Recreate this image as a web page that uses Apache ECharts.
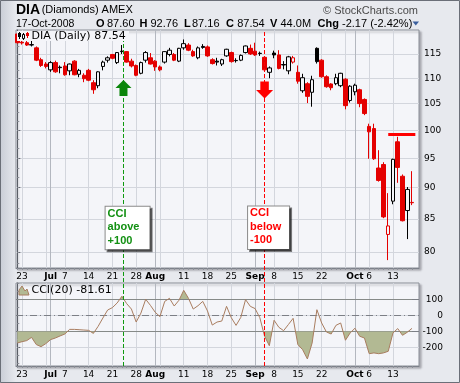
<!DOCTYPE html>
<html><head><meta charset="utf-8">
<script src="https://cdn.jsdelivr.net/npm/echarts@6/dist/echarts.min.js"></script>
<style>html,body{margin:0;padding:0;background:#e7e9ee}#c{width:460px;height:383px}</style>
</head><body><div id="c"></div><script>
// ---------------- data ----------------
const DATES = ['06-20','06-23','06-24','06-25','06-26','06-27','06-30',
'07-01','07-02','07-03','07-07','07-08','07-09','07-10','07-11','07-14','07-15','07-16','07-17','07-18','07-21','07-22','07-23','07-24','07-25','07-28','07-29','07-30','07-31',
'08-01','08-04','08-05','08-06','08-07','08-08','08-11','08-12','08-13','08-14','08-15','08-18','08-19','08-20','08-21','08-22','08-25','08-26','08-27','08-28','08-29',
'09-02','09-03','09-04','09-05','09-08','09-09','09-10','09-11','09-12','09-15','09-16','09-17','09-18','09-19','09-22','09-23','09-24','09-25','09-26','09-29','09-30',
'10-01','10-02','10-03','10-06','10-07','10-08','10-09','10-10','10-13','10-14','10-15','10-16','10-17'];
const PRIOR_CLOSE = 119.6;
const OPEN  = [119.3,117.5,117.4,116.9,116.3,113.8,112.9,111.7,113.2,112.25,112.5,111.5,113.5,110.8,110.6,111.6,109.1,108.5,112.4,113.7,114.9,113.2,115.6,115.5,113.5,112.6,111.0,113.7,114.2,113.5,112.3,113.3,114.9,114.9,113.5,116.3,116.9,115.5,114.2,116.6,116.5,113.8,113.5,112.9,114.6,115.3,113.65,113.7,115.3,116.2,115.6,115.15,114.3,111.2,115.2,114.8,112.8,111.5,113.3,111.2,107.5,108.9,107.2,116.2,113.7,110.3,108.85,108.9,108.5,109.8,105.6,107.3,107.7,105.8,100.7,100.3,93.3,93.9,82.6,87.8,97.9,91.9,86.3,87.60];
const HIGH  = [119.5,118.0,118.2,118.3,116.6,114.2,113.3,113.5,113.6,112.6,113.3,113.0,113.7,111.9,111.0,111.9,109.6,111.4,113.6,114.5,115.0,115.4,116.9,115.6,114.0,112.8,113.4,115.6,115.2,113.7,112.6,115.6,116.3,115.2,116.3,118.1,117.3,115.9,116.6,117.1,116.8,114.1,114.2,114.0,116.1,115.5,114.1,114.9,116.8,117.0,117.4,115.5,114.5,112.4,115.7,115.8,113.5,114.6,114.6,112.6,110.9,109.2,110.5,116.4,113.9,110.6,109.0,110.9,111.1,110.0,108.6,108.9,107.9,106.0,101.2,101.2,96.4,94.3,89.1,94.9,98.8,92.2,90.1,92.76];
const LOW   = [117.2,117.0,116.7,116.6,113.5,112.3,112.0,111.3,111.1,111.0,110.5,110.6,110.6,110.2,109.2,109.4,106.9,108.0,111.6,113.2,113.9,112.9,115.0,113.2,112.2,110.4,110.8,113.2,112.8,111.5,111.4,113.0,114.5,113.5,113.3,115.9,115.6,114.4,113.9,116.1,114.4,112.8,112.6,112.5,114.4,113.2,113.2,113.5,115.1,114.8,114.6,114.6,111.6,110.0,114.1,111.8,111.8,110.8,113.0,108.9,107.1,105.1,104.4,113.0,110.1,108.1,107.6,108.6,108.2,103.9,105.2,106.6,104.3,102.8,94.9,94.7,91.0,85.1,78.8,87.3,90.8,84.6,81.9,87.16];
const CLOSE = [117.4,117.35,116.9,117.0,113.7,112.6,112.4,113.2,111.3,112.15,110.7,112.9,110.7,111.6,109.9,109.6,107.7,111.3,113.3,114.2,114.1,115.3,115.5,113.3,112.5,110.6,113.2,115.3,112.9,112.3,111.7,115.5,115.8,113.7,116.2,117.2,115.8,114.6,116.3,116.4,114.6,113.0,113.3,113.8,116.0,113.4,113.6,114.7,116.7,115.0,114.8,115.1,111.7,112.1,114.8,112.0,112.7,114.4,114.2,109.4,110.1,106.4,109.7,113.4,110.3,108.3,108.1,110.1,111.0,104.6,108.4,108.6,105.0,103.1,99.7,94.9,91.2,85.3,83.9,94.8,93.4,84.7,89.71,87.54];
const CCI   = [-173,-165,-158,-138,-183,-196,-177,-152,-142,-129,-117,-88,-88,-90,-92,-94,-113,-69,-17,33,48,77,119,73,39,-42,14,100,62,19,-8,87,106,58,94,156,106,39,60,87,27,-61,-42,-36,56,-15,-63,-13,98,56,42,-15,-131,-190,-31,-75,-96,-58,-19,-183,-215,-273,-173,35,-48,-104,-117,-63,-48,-156,-110,-81,-131,-142,-240,-235,-240,-235,-225,-110,-83,-125,-106,-81.61];
const X_TICK_IDX = [1,7,10,15,20,25,29,35,40,45,50,54,59,64,71,74,79];
const X_TICK_TXT = ['23','Jul','7','14','21','28','Aug','11','18','25','Sep','8','15','22','Oct','6','13'];
const MONTH_NAMES = ['Jul','Aug','Sep','Oct'];
const WEEK_IDX  = [1,6,10,15,20,25,30,35,40,45,50,54,59,64,69,74,79];
const MONTH_IDX = [7,29,50,71];
const PRICE_TICKS = [80,85,90,95,100,105,110,115];
const CCI_TICKS = [-200,-100,0,100];
const CCI_LEVELS = [100,-100];
// annotations (data coordinates)
const SIGNAL_IDX = [22.33,52];
const ARROW_AT = [[22.33,108.05],[52,107.66]];
const NOTE_AT = [[18.57,86.9],[48.53,86.95]];
const NOTE_TXT = ['CCI\nabove\n+100','CCI\nbelow\n-100'];
const RESIST_X = [78.0,83.7];
const RESIST_LEVEL = 99.2;

// ---------------- styling ----------------
const RED='#e40000', BLACK='#000000', PLOT_BG='#f4f5f9', GREEN='#0b860b';
const FONT='DejaVu Sans', HFONT='Liberation Sans';
const P_MIN=77.67, P_MAX=120.17, CCI_MIN=-316.9, CCI_MAX=201.9;
const X_MIN=-0.27, X_MAX=84.47;
const GM={left:16,top:30,width:403,height:238};
const GC={left:16,top:283,width:403,height:83};
const hiH = GC.height*(CCI_MAX-100)/(CCI_MAX-CCI_MIN);
const loTop = GC.top + GC.height*(CCI_MAX+100)/(CCI_MAX-CCI_MIN);
const DAY_IDX = DATES.map((d,i)=>i);
const PRICE_MINOR=[]; for(let v=78+1/3; v<120; v+=5/3) PRICE_MINOR.push(v);
const CCI_MINOR=[-300,-250,-200,-150,-100,-50,0,50,100,150,200];

const gridBase = {show:true, backgroundColor:PLOT_BG, borderColor:'#8a8e97', borderWidth:1,
  shadowColor:'rgba(60,60,70,0.35)', shadowBlur:2, shadowOffsetX:2, shadowOffsetY:2};
const grids = [
  Object.assign({}, gridBase, GM),
  Object.assign({}, gridBase, GC),
  {left:GC.left, top:GC.top, width:GC.width, height:hiH},
  {left:GC.left, top:loTop, width:GC.width, height:GC.top+GC.height-loTop},
  {left:GM.left, top:GM.top, width:GM.width, height:GC.top+GC.height-GM.top}
];
function xfmt(v){ const k=X_TICK_IDX.indexOf(Math.round(v)); const t=X_TICK_TXT[k]; if(t===undefined) return ''; return MONTH_NAMES.indexOf(t)>=0 ? '{b|'+t+'}' : t; }
function xAxesFor(g){
  return [
    {gridIndex:g,type:'value',min:X_MIN,max:X_MAX,position:'bottom',axisLine:{show:false},
     axisTick:{show:false,customValues:WEEK_IDX},splitLine:{show:true,lineStyle:{color:'#d3d6dd',width:1}},
     axisLabel:{customValues:X_TICK_IDX,formatter:xfmt,margin:4,fontFamily:FONT,fontSize:9,color:'#000',
       rich:{b:{fontFamily:FONT,fontSize:9,fontWeight:'bold',color:'#000'}}}},
    {gridIndex:g,type:'value',min:X_MIN,max:X_MAX,position:'bottom',axisLine:{show:false},axisLabel:{show:false},
     axisTick:{show:false,customValues:MONTH_IDX},splitLine:{show:true,lineStyle:{color:'#b3b7bf',width:1}}},
    {gridIndex:g,type:'value',min:X_MIN,max:X_MAX,position:'bottom',axisLine:{show:true,lineStyle:{color:'#7d818a'}},axisLabel:{show:false},
     axisTick:{show:true,customValues:DAY_IDX,length:2,lineStyle:{color:'#8d9199'}},splitLine:{show:false}}
  ];
}
const hiddenX = g => ({gridIndex:g,type:'value',min:X_MIN,max:X_MAX,show:false});
const xAxis = [...xAxesFor(0), ...xAxesFor(1), hiddenX(2), hiddenX(3), hiddenX(4)];
const yAxis = [
  {gridIndex:0,type:'log',logBase:10,min:P_MIN,max:P_MAX,position:'right',
   axisLine:{show:true,lineStyle:{color:'#5a5e66'}},axisTick:{show:true,length:3,customValues:PRICE_TICKS,lineStyle:{color:'#5a5e66'}},
   splitLine:{show:true,lineStyle:{color:'#d3d6dd'}},
   axisLabel:{customValues:PRICE_TICKS,margin:5,fontFamily:FONT,fontSize:9,color:'#000',formatter:v=>String(Math.round(v))}},
  {gridIndex:0,type:'log',logBase:10,min:P_MIN,max:P_MAX,position:'right',axisLine:{show:false},axisLabel:{show:false},
   splitLine:{show:false},axisTick:{show:true,length:2,customValues:PRICE_MINOR,lineStyle:{color:'#8d9199'}}},
  {gridIndex:1,type:'value',min:CCI_MIN,max:CCI_MAX,position:'right',
   axisLine:{show:true,lineStyle:{color:'#5a5e66'}},axisTick:{show:true,length:3,customValues:CCI_TICKS,lineStyle:{color:'#5a5e66'}},
   splitLine:{show:true,lineStyle:{color:'#d3d6dd'}},
   axisLabel:{customValues:CCI_TICKS,margin:24,align:'right',fontFamily:FONT,fontSize:9,color:'#000'}},
  {gridIndex:1,type:'value',min:CCI_MIN,max:CCI_MAX,position:'right',axisLine:{show:false},axisLabel:{show:false},
   splitLine:{show:false},axisTick:{show:true,length:2,customValues:CCI_MINOR,lineStyle:{color:'#8d9199'}}},
  {gridIndex:2,type:'value',min:100,max:CCI_MAX,show:false},
  {gridIndex:3,type:'value',min:CCI_MIN,max:-100,show:false},
  {gridIndex:4,type:'value',min:0,max:1,show:false}
];

const candleData = OPEN.map((o,i)=>{
  const c=CLOSE[i], prev = i ? CLOSE[i-1] : PRIOR_CLOSE;
  const col = c < prev ? RED : BLACK;
  const hollow = c > o;
  return {value:[i,o,c,LOW[i],HIGH[i]], itemStyle:{color: hollow?PLOT_BG:col, color0:col, borderColor:col, borderColor0:col, borderWidth:1}};
});
const cciData = CCI.map((v,i)=>[i,v]);
const FILL='#b2b993', LINE='#a97d60';

const arrowUp='path://M8,0 L16,8 L12,8 L12,16 L4,16 L4,8 L0,8 Z';
const arrowDn='path://M4,0 L12,0 L12,8 L16,8 L8,16 L0,8 L4,8 Z';
const noteLabel=(txt,color,w)=>({show:true,position:'inside',align:'left',verticalAlign:'top',formatter:txt,
  color:color,fontFamily:HFONT,fontWeight:'bold',fontSize:11,lineHeight:13.5,width:w,
  backgroundColor:'#ffffff',borderColor:'#8a8a8a',borderWidth:1,padding:[0,2,2,2],
  shadowColor:'rgba(0,0,0,0.5)',shadowOffsetX:2,shadowOffsetY:2,shadowBlur:0});

const series = [
  {type:'candlestick',xAxisIndex:0,yAxisIndex:0,barWidth:4,z:3,
   dimensions:['idx','open','close','lowest','highest'],encode:{x:'idx',y:['open','close','lowest','highest']},
   data:candleData,
   markLine:{silent:true,symbol:'none',z:6,label:{show:false},lineStyle:{color:'#ff0000',width:3,type:'solid'},
     data:[[{coord:[RESIST_X[0],RESIST_LEVEL]},{coord:[RESIST_X[1],RESIST_LEVEL]}]]},
   markPoint:{silent:true,z:7,data:[
     {coord:ARROW_AT[0],symbol:arrowUp,symbolSize:[16,16],itemStyle:{color:GREEN},label:{show:false}},
     {coord:ARROW_AT[1],symbol:arrowDn,symbolSize:[17,17],itemStyle:{color:'#ff0000'},label:{show:false}},
     {coord:NOTE_AT[0],symbol:'rect',symbolSize:1,itemStyle:{color:'rgba(0,0,0,0)'},label:noteLabel(NOTE_TXT[0],'#129012',40)},
     {coord:NOTE_AT[1],symbol:'rect',symbolSize:1,itemStyle:{color:'rgba(0,0,0,0)'},label:noteLabel(NOTE_TXT[1],'#ff0000',37)}
   ]}},
  {type:'line',xAxisIndex:6,yAxisIndex:4,data:cciData,symbol:'none',z:2,lineStyle:{width:0},areaStyle:{origin:'start',color:FILL,opacity:1}},
  {type:'line',xAxisIndex:7,yAxisIndex:5,data:cciData,symbol:'none',z:2,lineStyle:{width:0},areaStyle:{origin:'end',color:FILL,opacity:1}},
  {type:'line',xAxisIndex:3,yAxisIndex:2,data:cciData,symbol:'none',z:3,lineStyle:{color:LINE,width:1},
   markLine:{silent:true,symbol:'none',label:{show:false},z:2,data:[
     {yAxis:CCI_LEVELS[0],lineStyle:{color:'#7c7f86',width:1,type:'solid'}},
     {yAxis:CCI_LEVELS[1],lineStyle:{color:'#7c7f86',width:1,type:'solid'}},
     {yAxis:0,lineStyle:{color:'#7c7f86',width:1,type:[7,3,1,3]}}]}},
  {type:'line',xAxisIndex:8,yAxisIndex:6,data:[],z:4,
   markLine:{silent:true,symbol:'none',label:{show:false},data:[
     {xAxis:SIGNAL_IDX[0],lineStyle:{color:'#0f9a0f',width:1,type:[4,2]}},
     {xAxis:SIGNAL_IDX[1],lineStyle:{color:'#ff0000',width:1,type:[4,2]}}]}}
];

const T=(x,y,text,font,fill,align)=>({type:'text',x:x,y:y,silent:true,z:10,style:{text:text,font:font,fill:fill||'#000',align:align||'left',verticalAlign:'middle'}});
const graphic = [
  {type:'rect',shape:{x:0,y:0,width:16,height:383},style:{fill:new echarts.graphic.LinearGradient(0,0,1,0,[{offset:0,color:'#c9cdd6'},{offset:1,color:'#e7e9ee'}])},z:-10,silent:true},
  {type:'rect',shape:{x:0.5,y:0.5,width:459,height:382},style:{fill:null,stroke:'#6b6f78',lineWidth:1},z:20,silent:true},
  T(16,10.3,'DIA','bold 14px '+HFONT),
  T(41.7,10.3,'(Diamonds) AMEX','11px '+HFONT),
  T(418,10.8,'© StockCharts.com','11px '+HFONT,'#4a4a4a','right'),
  T(16,23.8,'17-Oct-2008','10.5px '+HFONT),
  T(96,23.8,'O','bold 11px '+HFONT), T(107,23.8,'87.60','11px '+HFONT),
  T(139.5,23.8,'H','bold 11px '+HFONT), T(150.5,23.8,'92.76','11px '+HFONT),
  T(184,23.8,'L','bold 11px '+HFONT), T(192,23.8,'87.16','11px '+HFONT),
  T(226,23.8,'C','bold 11px '+HFONT), T(237.2,23.8,'87.54','11px '+HFONT),
  T(270,23.8,'V','bold 11px '+HFONT), T(280.5,23.8,'44.0M','11px '+HFONT),
  T(317.5,23.8,'Chg','bold 11px '+HFONT), T(342,23.8,'-2.17 (-2.42%)','11px '+HFONT),
  {type:'polygon',shape:{points:[[412.5,21.5],[419,21.5],[415.75,25.5]]},style:{fill:'#3a5e9c'},z:10,silent:true},
  // legend boxes
  {type:'rect',shape:{x:17,y:31,width:112,height:10},style:{fill:PLOT_BG},z:8,silent:true},
  {type:'line',shape:{x1:19.5,y1:32,x2:19.5,y2:39},style:{stroke:'#000',lineWidth:1},z:9,silent:true},
  {type:'rect',shape:{x:18,y:33,width:3,height:4},style:{fill:'#000'},z:9,silent:true},
  {type:'line',shape:{x1:23.5,y1:33,x2:23.5,y2:40},style:{stroke:'#000',lineWidth:1},z:9,silent:true},
  {type:'rect',shape:{x:22.5,y:34.5,width:2,height:4},style:{fill:PLOT_BG,stroke:'#000',lineWidth:1},z:9,silent:true},
  {type:'line',shape:{x1:27.5,y1:32,x2:27.5,y2:38},style:{stroke:RED,lineWidth:1},z:9,silent:true},
  {type:'rect',shape:{x:26,y:33,width:3,height:3},style:{fill:RED},z:9,silent:true},
  T(31.5,36.3,'DIA (Daily) 87.54','11px '+FONT),
  {type:'polygon',shape:{points:[[19,295],[19,290],[22,286],[25,291],[27,289],[29,295]]},style:{fill:FILL,stroke:LINE,lineWidth:1},z:9,silent:true},
  T(31.5,290.2,'CCI(20) -81.61','11px '+FONT)
];

const chart = echarts.init(document.getElementById('c'), null, {renderer:'canvas'});
chart.setOption({backgroundColor:'#e7e9ee',animation:false,grid:grids,xAxis:xAxis,yAxis:yAxis,series:series,graphic:graphic});
</script></body></html>
